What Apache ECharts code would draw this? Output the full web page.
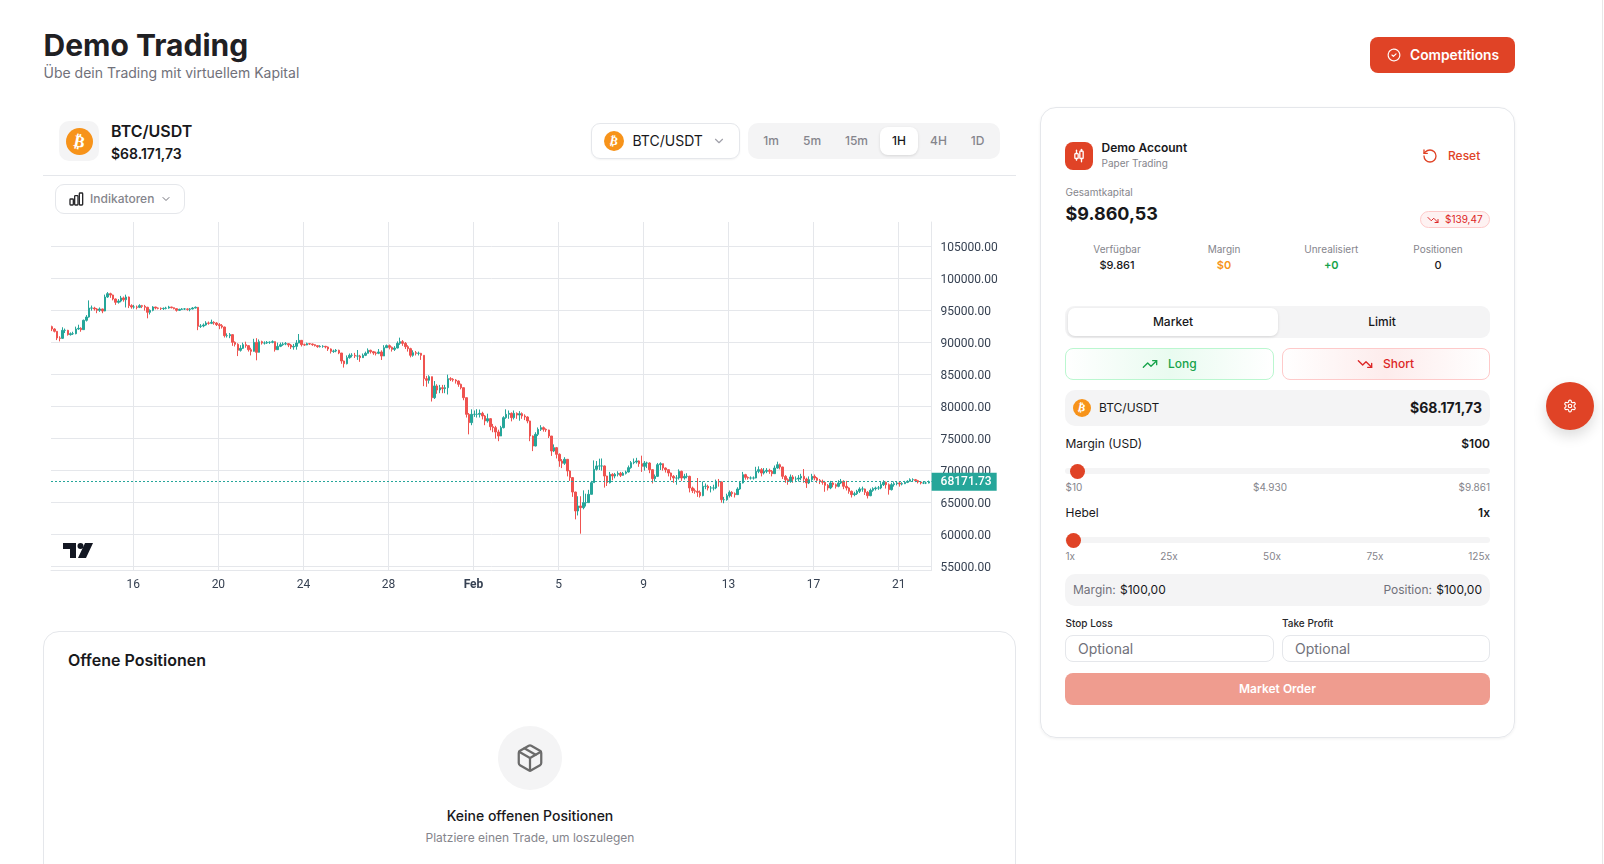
<!DOCTYPE html>
<html>
<head>
<meta charset="utf-8">
<title>Demo Trading</title>
<script src="https://cdn.jsdelivr.net/npm/echarts@6/dist/echarts.min.js"></script>
<style>
html,body{margin:0;padding:0;width:1604px;height:864px;overflow:hidden;background:#fff;font-family:Inter,"Noto Sans",sans-serif;color:#18181b}
.t{position:absolute;white-space:nowrap;line-height:1}
.b{position:absolute;box-sizing:border-box}
.i{position:absolute;fill:none;stroke:currentColor;stroke-width:2;stroke-linecap:round;stroke-linejoin:round}
#chart{position:absolute;left:43px;top:216px;width:970px;height:385px}
</style>
</head>
<body>
<div id="page"></div>
<div id="chart"></div>
<script>
// 3h candles (first one starts 12 Jan 04:00)
var closes = [
92030,91670,90625,90570,91820,91820,91150,91300,91300,92030,92140,91930,93390,93900,95300,95310,95160,94950,95160,94840,
97030,97550,97340,96720,96200,96400,96880,96610,97030,95680,95470,95470,95420,95680,95570,95420,94640,94950,95470,95310,
95260,95210,95260,95310,95470,95360,95210,94950,95100,95160,95160,95100,95160,95310,95420,92450,92500,92660,92970,92920,
93070,92970,92710,92550,92340,90990,90990,91150,89950,89640,88700,89010,89580,89430,88800,88540,89950,88390,90050,89840,
89840,89950,89950,90050,88800,89320,89580,89690,89740,89530,89220,89320,89840,90260,89580,89530,89740,89690,89580,89430,
89270,89320,89320,89220,88910,88540,88590,88700,88280,
87030,86610,87550,87920,87920,87810,87810,87550,87920,88230,88700,88490,88280,88230,88440,87810,89110,89430,89170,88850,
89060,89790,90050,89790,89270,88960,87920,88330,88230,88230,87920,84270,84010,84580,81300,83130,82500,82860,82710,82860,
84270,84170,84060,83900,83390,82860,81300,78700,77400,78700,78700,78700,78850,78440,77660,78020,76770,76620,75940,75310,
76620,78180,78700,78850,78180,78850,78590,78800,78440,78280,77660,75310,73750,75570,76350,76620,76350,76250,75310,72970,
73490,72450,71410,71050,71670,69850,68810,66560,63600,64380,64120,64900,64900,66200,68020,70110,70630,70630,70630,69060,
68020,69320,69060,69320,69480,69170,69480,69690,70370,71150,71250,71410,
70990,70570,71090,71090,70050,68650,69010,70830,70990,70310,70050,69530,69010,68750,68750,69790,68750,69010,69010,67190,
66770,66670,66510,65990,67450,67450,67190,67190,67190,68230,68130,65360,65360,65990,66510,66300,66150,67030,67970,69270,
68850,68750,68750,68750,69790,70050,69530,69790,69950,69790,69430,70310,70830,70470,69010,68490,68230,68910,68590,68590,
68750,69010,68590,67970,68490,69010,68750,68390,68230,68070,67600,67190,67970,67710,67450,67970,68230,67450,67190,66670,
66150,66300,66670,67030,67030,66510,65990,66820,67080,67190,67190,67710,68070,67710,66930,67710,67860,67970,67810,67860,
68070,68230,68490,68490,68330,68130,67970,67970,67970,68171.73
];
var highs = [
92550,92150,91700,90900,92300,92100,91900,91500,91600,92400,92700,92300,93500,94200,96500,95700,95500,95300,95400,95200,
97400,97800,97700,97400,96800,96700,97200,97100,97400,97100,95900,95800,95700,95900,95800,95800,95500,95100,95600,95500,
95400,95400,95400,95500,95650,95500,95400,95250,95200,95300,95300,95250,95300,95450,95550,95420,92800,92900,93250,93200,
93500,93250,93100,92950,92800,92400,91350,91400,91200,90100,89800,89500,89900,90050,89500,89100,90500,90600,90400,90200,
90100,90150,90100,90250,90100,89900,89900,89950,90000,89800,89700,89700,90300,91250,90300,89750,89900,89850,89750,89650,
89500,89500,89500,89400,89300,89000,88800,88900,88800,
87300,87100,87900,88200,88250,88300,88750,88000,88200,88500,89000,88800,88600,88500,88900,88700,89500,89600,89600,89300,
89350,90100,90680,90300,90000,89500,89100,88700,88600,88500,88300,87900,84700,84800,84600,83900,83400,83300,83300,83300,
84900,84500,84350,84200,84000,83500,82900,81300,78900,79480,79300,79500,79450,79100,78600,78800,78100,77200,76900,76300,
76900,78400,79480,79300,79000,79300,79000,79200,79000,78700,78400,77700,75400,75900,76650,77000,76800,76500,76300,75300,
74000,73600,72600,71700,72000,71700,69950,68900,66600,65900,65900,66820,66300,66900,68300,71500,71400,71770,71800,70700,
69100,69700,69500,69550,69800,69700,69700,69900,70700,71400,71800,71900,
71500,72240,71400,71300,71200,70100,69300,71100,71200,71000,70400,70100,69600,69200,69200,70100,69900,69400,69500,69100,
67400,67100,68750,66800,68200,67900,67700,67500,67700,68500,68600,68200,65800,66300,66800,66700,66500,67300,68200,69700,
69400,69000,69000,69000,70500,70570,70300,70300,70300,70200,70000,70700,71300,71000,70500,69200,68700,69300,69200,69000,
69200,69400,70150,68800,69000,69400,69300,68900,68600,68500,68300,67800,68300,68100,67900,68400,68600,68400,68300,67300,
66800,66600,66900,67300,67400,67100,66700,67100,67300,67400,67500,68100,68400,68200,67900,68000,68200,68200,68100,68100,
68300,68400,68700,68700,68600,68450,68250,68200,68200,68350
];
var lows = [
91700,91500,90300,90100,90500,91400,91000,91000,91100,91200,91900,91600,91900,93200,93800,94900,94900,94500,94700,94500,
94800,96900,96900,96500,95800,96000,96200,96300,95400,95300,95200,95200,95100,95300,95300,94900,93700,94300,94800,95100,
95100,95000,95000,95100,95200,95250,95100,94750,94850,95000,95000,94900,94800,95100,95250,91850,92200,92300,92550,92700,
92800,92700,92500,92000,92100,90700,90700,90600,89400,89300,87800,88500,88900,89100,88500,87900,88500,87140,88350,89600,
89600,89700,89700,89800,88500,88750,89200,89400,89500,89200,88900,88800,88800,89800,89300,89400,89500,89550,89400,89300,
89100,89150,89100,89000,88600,88200,88300,88400,88100,
86600,86000,86500,87400,87600,87500,87200,86900,87500,87800,88300,88200,88000,87900,88100,87190,87800,89100,88850,88500,
88600,89000,89550,89400,88900,88500,87600,87700,87900,87900,87200,83100,83000,83500,80700,81100,81900,82000,82000,82000,
81800,83900,83800,83500,83000,82600,80900,78200,75570,77000,78300,78200,78200,77900,77000,77400,76200,75900,74900,74500,
75300,76500,78000,78000,77600,77900,78000,77700,78000,77800,77300,74500,72950,73700,75300,76100,76000,75950,75000,72200,
72800,71800,70500,70300,70800,69000,68300,65800,62290,62900,60050,63860,64300,64900,66200,68000,69900,70000,69900,67250,
67500,67900,68400,68700,69000,68900,69100,69300,69600,70200,70900,71000,
70500,69700,69900,70300,69500,67900,68200,68900,70000,69900,69600,69000,68400,68000,67700,68500,68300,68500,68700,66500,
66400,66300,65800,65700,65900,67000,66800,66500,66800,67000,67400,64900,64800,65200,65700,65800,65700,66100,66900,67900,
68500,68500,68500,68500,68700,69500,69000,69300,69500,69400,69000,69400,70200,70100,68600,68000,67700,68000,68000,68100,
68200,68400,68000,67200,67800,68300,68400,68000,67800,67700,66600,66800,67000,67300,67100,67300,67800,67000,66800,66300,
65700,65900,66100,66400,66600,66100,65550,65900,66600,66800,66900,67000,67500,67100,66150,66800,67400,67600,67400,67600,
67800,67950,68200,68250,68100,67900,67750,67800,67800,67900
];
var firstOpen = 92400;
var firstCandle = Date.UTC(2026, 0, 12, 4);
var candleStep = 3 * 3600 * 1000;
var priceTicks = [55000,60000,65000,70000,75000,80000,85000,90000,95000,100000,105000];
var dateTicks = [Date.UTC(2026,0,16),Date.UTC(2026,0,20),Date.UTC(2026,0,24),Date.UTC(2026,0,28),Date.UTC(2026,1,1),Date.UTC(2026,1,5),Date.UTC(2026,1,9),Date.UTC(2026,1,13),Date.UTC(2026,1,17),Date.UTC(2026,1,21)];
var lastPrice = 68171.73;

var red = '#e04326', line = '#e5e7eb', soft = '#f4f4f5', grey = '#71717a', greyLight = '#85858c';
var page = document.getElementById('page');

function box(x, y, w, h, css, html) {
    var d = document.createElement('div');
    d.className = 'b';
    d.style.cssText = 'left:'+x+'px;top:'+y+'px;width:'+w+'px;height:'+h+'px;'+(css||'');
    if (html) d.innerHTML = html;
    page.appendChild(d);
    return d;
}
// x is left, centre or right edge depending on align, y is the baseline
function txt(x, y, s, size, weight, color, align) {
    var d = document.createElement('div');
    d.className = 't';
    d.textContent = s;
    d.style.cssText = 'top:'+(y-size*0.864)+'px;font-size:'+size+'px;font-weight:'+weight+';color:'+color+';';
    if (align == 'c') d.style.cssText += 'left:'+x+'px;transform:translateX(-50%);';
    else if (align == 'r') d.style.cssText += 'right:'+(1604-x)+'px;';
    else d.style.cssText += 'left:'+x+'px;';
    page.appendChild(d);
}
function icon(cx, cy, size, color, body, sw) {
    var d = document.createElement('div');
    d.innerHTML = '<svg class="i" viewBox="0 0 24 24" style="left:'+(cx-size/2)+'px;top:'+(cy-size/2)+'px;width:'+size+'px;height:'+size+'px;color:'+color+';stroke-width:'+(sw||2)+'">'+body+'</svg>';
    page.appendChild(d);
}
function coin(cx, cy, size) {
    box(cx-size/2, cy-size/2, size, size, 'border-radius:50%;background:#f7931a;color:#fff;text-align:center;font:bold '+(size*0.6)+'px/'+size+'px "DejaVu Sans";',
        '<span style="display:inline-block;transform:rotate(12deg)">₿</span>');
}
var UP = '<polyline points="22 7 13.5 15.5 8.5 10.5 2 17"/><polyline points="16 7 22 7 22 13"/>';
var DOWN = '<polyline points="22 17 13.5 8.5 8.5 13.5 2 7"/><polyline points="16 17 22 17 22 11"/>';
var CHEV = '<path d="m6 9 6 6 6-6"/>';

// header
txt(43.5, 56, 'Demo Trading', 30, 700, '#1f2023');
txt(43.5, 78, 'Übe dein Trading mit virtuellem Kapital', 14, 400, grey);
box(1370, 37, 145, 36, 'background:'+red+';border-radius:8px');
icon(1394, 55, 14, '#fff', '<circle cx="12" cy="12" r="10" stroke-dasharray="4 1"/><path d="m8.5 12 2.5 2.5 4.5-4.5"/>');
txt(1410, 60.6, 'Competitions', 13.8, 600, '#fff');

// chart toolbar
box(59, 121, 40, 40, 'background:'+soft+';border-radius:10px');
coin(79, 141, 27);
txt(111, 137, 'BTC/USDT', 16, 600, '#18181b');
txt(111, 159, '$68.171,73', 14, 600, '#18181b');
box(591, 123, 149, 36, 'border:1px solid '+line+';border-radius:9px;box-shadow:0 1px 2px rgba(0,0,0,.05)');
coin(614, 141, 20);
txt(632.5, 146, 'BTC/USDT', 14, 400, '#18181b');
icon(719, 141, 14, '#a1a1aa', CHEV);
box(748, 123, 252, 36, 'background:'+soft+';border-radius:10px');
box(880, 127, 38, 28, 'background:#fff;border-radius:8px;box-shadow:0 1px 3px rgba(0,0,0,.12)');
txt(771, 145, '1m', 12, 500, greyLight, 'c');
txt(812, 145, '5m', 12, 500, greyLight, 'c');
txt(856.5, 145, '15m', 12, 500, greyLight, 'c');
txt(899, 145, '1H', 12, 500, '#18181b', 'c');
txt(938.5, 145, '4H', 12, 500, greyLight, 'c');
txt(977.5, 145, '1D', 12, 500, greyLight, 'c');
box(43, 175, 973, 1, 'background:'+line);
box(55, 184, 130, 30, 'border:1px solid '+line+';border-radius:9px');
icon(76, 199, 16, '#27272a', '<rect x="3" y="12" width="5" height="9" rx="1"/><rect x="10" y="7" width="5" height="14" rx="1"/><rect x="17" y="3" width="5" height="18" rx="1"/>');
txt(90, 203, 'Indikatoren', 12, 500, greyLight);
icon(166, 199, 12, grey, CHEV);

// open positions card
box(43, 631, 973, 300, 'border:1.5px solid '+line+';border-radius:16px');
txt(68, 666, 'Offene Positionen', 16, 600, '#18181b');
box(498, 726, 64, 64, 'background:'+soft+';border-radius:50%');
icon(530, 758, 30, '#6b6b6b', '<path d="M11 21.73a2 2 0 0 0 2 0l7-4A2 2 0 0 0 21 16V8a2 2 0 0 0-1-1.73l-7-4a2 2 0 0 0-2 0l-7 4A2 2 0 0 0 3 8v8a2 2 0 0 0 1 1.73z"/><path d="M12 22V12"/><polyline points="3.29 7 12 12 20.71 7"/><path d="m7.5 4.27 9 5.15"/>', 1.8);
txt(530, 821, 'Keine offenen Positionen', 14, 500, '#18181b', 'c');
txt(530, 842, 'Platziere einen Trade, um loszulegen', 12, 400, greyLight, 'c');

// account card
box(1040, 107, 475, 631, 'border:1.5px solid '+line+';border-radius:16px;box-shadow:0 1px 3px rgba(0,0,0,.06)');
box(1065, 142, 28, 28, 'background:'+red+';border-radius:8px');
icon(1079, 156, 20, '#fff', '<path d="M9 5v4"/><rect x="7" y="9" width="4" height="6" rx="1"/><path d="M9 15v2"/><path d="M15 4v2"/><rect x="13" y="6" width="4" height="9" rx="1"/><path d="M15 15v4"/>', 1.6);
txt(1101.5, 152, 'Demo Account', 12, 600, '#18181b');
txt(1101.5, 167, 'Paper Trading', 10, 400, greyLight);
icon(1430, 156, 16, red, '<path d="M3 12a9 9 0 1 0 9-9 9.75 9.75 0 0 0-6.74 2.74L3 8"/><path d="M3 3v5h5"/>');
txt(1448, 160, 'Reset', 12, 500, red);
txt(1065.5, 196, 'Gesamtkapital', 10, 400, greyLight);
txt(1065.5, 220.5, '$9.860,53', 18, 700, '#18181b');
box(1420, 211, 70, 17, 'background:#fef2f2;border:1px solid #fecaca;border-radius:9px');
icon(1433, 219.5, 12, '#dc2626', DOWN);
txt(1445, 223, '$139,47', 10, 400, '#dc2626');
txt(1117, 253, 'Verfügbar', 10, 400, greyLight, 'c');
txt(1224, 253, 'Margin', 10, 400, greyLight, 'c');
txt(1331.3, 253, 'Unrealisiert', 10, 400, greyLight, 'c');
txt(1438, 253, 'Positionen', 10, 400, greyLight, 'c');
txt(1117, 269.5, '$9.861', 11, 500, '#18181b', 'c');
txt(1224, 269.5, '$0', 11, 600, '#f7931a', 'c');
txt(1331.3, 269.5, '+0', 11, 600, '#16a34a', 'c');
txt(1438, 269.5, '0', 11, 500, '#18181b', 'c');

box(1065, 306, 425, 32, 'background:'+soft+';border-radius:9px');
box(1067.5, 308, 210.5, 28, 'background:#fff;border-radius:7px;box-shadow:0 1px 3px rgba(0,0,0,.12)');
txt(1173, 326, 'Market', 12, 500, '#18181b', 'c');
txt(1382, 326, 'Limit', 12, 500, '#18181b', 'c');
box(1065, 348, 208.5, 32, 'border:1px solid #bbf7d0;border-radius:8px;background:linear-gradient(90deg,#fff,#e9fbf0 50%,#fff)');
icon(1150, 364, 16, '#16a34a', UP);
txt(1168, 368, 'Long', 12, 500, '#16a34a');
box(1282, 348, 208, 32, 'border:1px solid #fecaca;border-radius:8px;background:linear-gradient(90deg,#fff,#fdecec 50%,#fff)');
icon(1365, 364, 16, '#dc2626', DOWN);
txt(1383, 368, 'Short', 12, 500, '#dc2626');

box(1065, 390, 425, 36, 'background:'+soft+';border-radius:10px');
coin(1082, 408, 18);
txt(1099, 412, 'BTC/USDT', 12, 400, '#18181b');
txt(1482, 413, '$68.171,73', 14, 700, '#18181b', 'r');

txt(1065.5, 448, 'Margin (USD)', 12, 400, '#18181b');
txt(1490, 448, '$100', 12, 600, '#18181b', 'r');
box(1065, 468, 425, 6, 'background:'+soft+';border-radius:3px');
box(1069.5, 463.5, 15, 15, 'background:'+red+';border-radius:50%');
txt(1065.5, 491, '$10', 10, 400, greyLight);
txt(1270, 491, '$4.930', 10, 400, greyLight, 'c');
txt(1490, 491, '$9.861', 10, 400, greyLight, 'r');

txt(1065.5, 517, 'Hebel', 12, 400, '#18181b');
txt(1490, 517, '1x', 12, 600, '#18181b', 'r');
box(1065, 537, 425, 6, 'background:'+soft+';border-radius:3px');
box(1065.5, 532.5, 15, 15, 'background:'+red+';border-radius:50%');
txt(1065.5, 560, '1x', 10, 400, greyLight);
txt(1169, 560, '25x', 10, 400, greyLight, 'c');
txt(1272, 560, '50x', 10, 400, greyLight, 'c');
txt(1375, 560, '75x', 10, 400, greyLight, 'c');
txt(1490, 560, '125x', 10, 400, greyLight, 'r');

box(1065, 574, 425, 32, 'background:'+soft+';border-radius:10px');
txt(1073, 594, 'Margin:', 12, 400, grey);
txt(1120, 594, '$100,00', 12, 400, '#18181b');
txt(1482, 594, '$100,00', 12, 400, '#18181b', 'r');
txt(1432, 594, 'Position:', 12, 400, grey, 'r');

txt(1065.5, 627, 'Stop Loss', 10, 500, '#27272a');
txt(1282, 627, 'Take Profit', 10, 500, '#27272a');
box(1065, 635, 208.5, 27, 'border:1px solid '+line+';border-radius:8px');
box(1282, 635, 208, 27, 'border:1px solid '+line+';border-radius:8px');
txt(1078, 654, 'Optional', 14, 400, grey);
txt(1295, 654, 'Optional', 14, 400, grey);
box(1065, 673, 425, 32, 'background:#ef9c8f;border-radius:8px');
txt(1277.5, 693, 'Market Order', 12, 600, '#fff', 'c');

// floating settings button and page edge
box(1546, 382, 48, 48, 'background:'+red+';border-radius:50%;box-shadow:0 6px 14px rgba(0,0,0,.14)');
icon(1570, 406, 14, '#fff', '<path d="M12.22 2h-.44a2 2 0 0 0-2 2v.18a2 2 0 0 1-1 1.73l-.43.25a2 2 0 0 1-2 0l-.15-.08a2 2 0 0 0-2.73.73l-.22.38a2 2 0 0 0 .73 2.73l.15.1a2 2 0 0 1 1 1.72v.51a2 2 0 0 1-1 1.74l-.15.09a2 2 0 0 0-.73 2.73l.22.38a2 2 0 0 0 2.73.73l.15-.08a2 2 0 0 1 2 0l.43.25a2 2 0 0 1 1 1.73V20a2 2 0 0 0 2 2h.44a2 2 0 0 0 2-2v-.18a2 2 0 0 1 1-1.73l.43-.25a2 2 0 0 1 2 0l.15.08a2 2 0 0 0 2.73-.73l.22-.39a2 2 0 0 0-.73-2.73l-.15-.08a2 2 0 0 1-1-1.74v-.5a2 2 0 0 1 1-1.74l.15-.09a2 2 0 0 0 .73-2.73l-.22-.38a2 2 0 0 0-2.73-.73l-.15.08a2 2 0 0 1-2 0l-.43-.25a2 2 0 0 1-1-1.73V4a2 2 0 0 0-2-2z"/><circle cx="12" cy="12" r="3"/>');
box(1602, 0, 1, 864, 'background:#e8e8e8');

// the chart itself
var candleData = closes.map(function (c, i) {
    var o = i ? closes[i-1] : firstOpen;
    return [firstCandle + i * candleStep, o, c, Math.min(lows[i], o, c), Math.max(highs[i], o, c)];
});

var chart = echarts.init(document.getElementById('chart'));
chart.setOption({
    animation: false,
    textStyle: {fontFamily: 'Roboto'},
    grid: {left: 8, right: 81.4, top: 6, bottom: 31},
    xAxis: {
        type: 'value',
        min: Date.UTC(2026,0,16) - 3.873 * 86400000,
        max: Date.UTC(2026,0,16) + 37.55 * 86400000,
        axisLine: {show: true, lineStyle: {color: line}},
        axisTick: {show: false, customValues: dateTicks},
        splitLine: {show: true, lineStyle: {color: line}},
        axisLabel: {
            customValues: dateTicks,
            margin: 9,
            fontFamily: 'Roboto',
            fontSize: 12,
            color: '#364152',
            formatter: function (v) {
                var d = new Date(v);
                return d.getUTCDate() == 1 ? '{m|Feb}' : String(d.getUTCDate());
            },
            rich: {m: {fontFamily: 'Roboto', fontSize: 12, fontWeight: 'bold', color: '#364152'}}
        }
    },
    yAxis: {
        type: 'value',
        position: 'right',
        min: 54375,
        max: 108750,
        scale: true,
        axisLine: {show: true, lineStyle: {color: line}},
        axisTick: {show: false, customValues: priceTicks},
        splitLine: {show: true, lineStyle: {color: line}},
        axisLabel: {
            customValues: priceTicks,
            margin: 9,
            fontFamily: 'Roboto',
            fontSize: 12,
            color: '#364152',
            formatter: function (v) { return '{p|' + v.toFixed(2) + '}'; },
            // labels sit a touch below their grid line in the original
            rich: {p: {fontFamily: 'Roboto', fontSize: 12, color: '#364152', padding: [4, 0, 0, 0]}}
        }
    },
    series: [{
        type: 'candlestick',
        barWidth: 2,
        encode: {x: 0, y: [1, 2, 3, 4]},
        data: candleData,
        itemStyle: {color: '#26a69a', color0: '#ef5350', borderColor: '#26a69a', borderColor0: '#ef5350', borderWidth: 1},
        markLine: {
            silent: true,
            symbol: 'none',
            animation: false,
            lineStyle: {color: '#26a69a', type: [2, 2], width: 1},
            label: {
                position: 'end',
                distance: 0,
                formatter: lastPrice.toFixed(2),
                fontFamily: 'Roboto',
                fontSize: 12,
                fontWeight: 500,
                color: '#fff',
                backgroundColor: '#26a69a',
                padding: [3, 5, 3, 9]
            },
            data: [{yAxis: lastPrice}]
        }
    }]
});

// bottom of the price scale is cut off in the original, and the TV mark sits over the plot
box(933, 570.5, 70, 10, 'background:#fff');
box(62.7, 543, 30, 15, '', '<svg viewBox="0 0 30 15" width="30" height="15" style="display:block"><path fill="#131722" d="M0 0h13v15H7V6H0z"/><circle cx="17.5" cy="3" r="3" fill="#131722"/><path fill="#131722" d="M22 0h8l-7 15h-8z"/></svg>');
</script>
</body>
</html>
